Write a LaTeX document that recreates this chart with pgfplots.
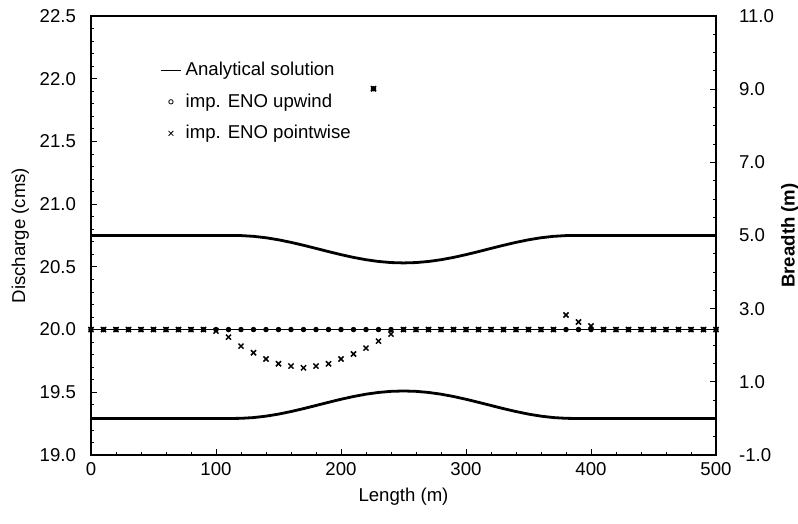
\documentclass[border=0pt]{standalone}
\usepackage{fontspec}
\setmainfont{Liberation Sans}
\usepackage{pgfplots}
\usepackage{pgfplotstable}
\pgfplotsset{compat=1.18}

% imp. ENO upwind (circles), every 10 m, plus the stray point near x=226
\pgfplotstableread{
x y
0 20
10 20
20 20
30 20
40 20
50 20
60 20
70 20
80 20
90 20
100 20
110 20
120 20
130 20
140 20
150 20
160 20
170 20
180 20
190 20
200 20
210 20
220 20
230 20
240 20
250 20
260 20
270 20
280 20
290 20
300 20
310 20
320 20
330 20
340 20
350 20
360 20
370 20
380 20
390 20
400 20
410 20
420 20
430 20
440 20
450 20
460 20
470 20
480 20
490 20
500 20
226 21.92
}\upwind

% imp. ENO pointwise (crosses)
\pgfplotstableread{
x y
0 20
10 20
20 20
30 20
40 20
50 20
60 20
70 20
80 20
90 20
100 19.988
110 19.94
120 19.868
130 19.815
140 19.765
150 19.727
160 19.709
170 19.695
180 19.709
190 19.727
200 19.765
210 19.805
220 19.852
230 19.908
240 19.964
250 20
260 20
270 20
280 20
290 20
300 20
310 20
320 20
330 20
340 20
350 20
360 20
370 20
380 20.116
390 20.06
400 20.028
410 20
420 20
430 20
440 20
450 20
460 20
470 20
480 20
490 20
500 20
226 21.92
}\pointwise

% channel walls (breadth, right axis)
\pgfplotstableread{
x upper lower
0 5 0
115 5 0
120 4.9974 0.0026
130 4.9774 0.0226
140 4.9383 0.0617
150 4.8823 0.1177
160 4.8125 0.1875
170 4.7325 0.2675
180 4.6469 0.3531
190 4.5599 0.4401
200 4.4765 0.5235
210 4.4010 0.5990
220 4.3377 0.6623
230 4.2899 0.7101
240 4.2601 0.7399
250 4.25 0.75
260 4.2601 0.7399
270 4.2899 0.7101
280 4.3377 0.6623
290 4.4010 0.5990
300 4.4765 0.5235
310 4.5599 0.4401
320 4.6469 0.3531
330 4.7325 0.2675
340 4.8125 0.1875
350 4.8823 0.1177
360 4.9383 0.0617
370 4.9774 0.0226
380 4.9974 0.0026
385 5 0
500 5 0
}\walls

\pgfplotsset{
  /pgf/number format/assume math mode=true,
  every axis/.append style={
    scale only axis, width=312.5pt, height=219.5pt,
    xmin=0, xmax=500,
    font=\fontsize{9.3}{11}\selectfont,
    major tick length=3pt, minor tick length=1.5pt,
    tick style={black, line width=0.4pt},
    axis line style={line width=0.6pt},
  },
  linelegend/.style={legend image code/.code={\draw[black, line width=0.8pt] (0pt,0pt) -- (10pt,0pt);}},
  circlegend/.style={legend image code/.code={\draw[black, line width=0.4pt] (5pt,0pt) circle (1.1pt);}},
  crosslegend/.style={legend image code/.code={\draw[black, line width=0.4pt] (3.8pt,-1.2pt) -- (6.2pt,1.2pt) (3.8pt,1.2pt) -- (6.2pt,-1.2pt);}},
}

\begin{document}
\begin{tikzpicture}
\begin{axis}[
  name=main,
  ymin=19, ymax=22.5,
  xtick={0,100,200,300,400,500},
  ytick={19,19.5,20,20.5,21,21.5,22,22.5},
  minor x tick num=4, minor y tick num=4,
  xtick pos=bottom, ytick pos=left,
  yticklabel style={/pgf/number format/fixed, /pgf/number format/fixed zerofill,
    /pgf/number format/precision=1, xshift=-4pt},
  xlabel={Length (m)}, ylabel={Discharge (cms)},
  xlabel style={at={(axis description cs:0.5,-0.0957)}, anchor=center},
  ylabel style={at={(axis description cs:-0.113,0.5)}, anchor=center},
  legend style={draw=none, fill=none, at={(0.11,0.905)}, anchor=north west,
    font=\fontsize{9.3}{11}\selectfont, row sep=3.5pt, inner sep=0pt},
  legend cell align=left,
]
\addplot[black, line width=0.9pt, linelegend] coordinates {(0,20) (500,20)};
\addlegendentry{Analytical solution}
\addplot[black, only marks, mark=*, mark size=1.1pt, line width=0.5pt, circlegend]
  table[x=x, y=y] {\upwind};
\addlegendentry{imp. ENO upwind}
\addplot[black, only marks, mark=x, mark size=1.8pt, line width=0.75pt, crosslegend]
  table[x=x, y=y] {\pointwise};
\addlegendentry{imp. ENO pointwise}
\end{axis}

\begin{axis}[
  ymin=-1, ymax=11,
  axis y line*=right, axis x line=none,
  ytick={-1,1,3,5,7,9,11},
  minor y tick num=3,
  yticklabel style={/pgf/number format/fixed, /pgf/number format/fixed zerofill,
    /pgf/number format/precision=1, xshift=8pt},
  ylabel={\bfseries Breadth (m)},
  ylabel style={at={(axis description cs:1.118,0.5)}, anchor=center},
]
\addplot[black, line width=1.4pt] table[x=x, y=upper] {\walls};
\addplot[black, line width=1.4pt] table[x=x, y=lower] {\walls};
\end{axis}

\pgfresetboundingbox
\path ([shift={(-45.5pt,-34.5pt)}]main.south west) rectangle ([shift={(41pt,8pt)}]main.north east);
\end{tikzpicture}
\end{document}
